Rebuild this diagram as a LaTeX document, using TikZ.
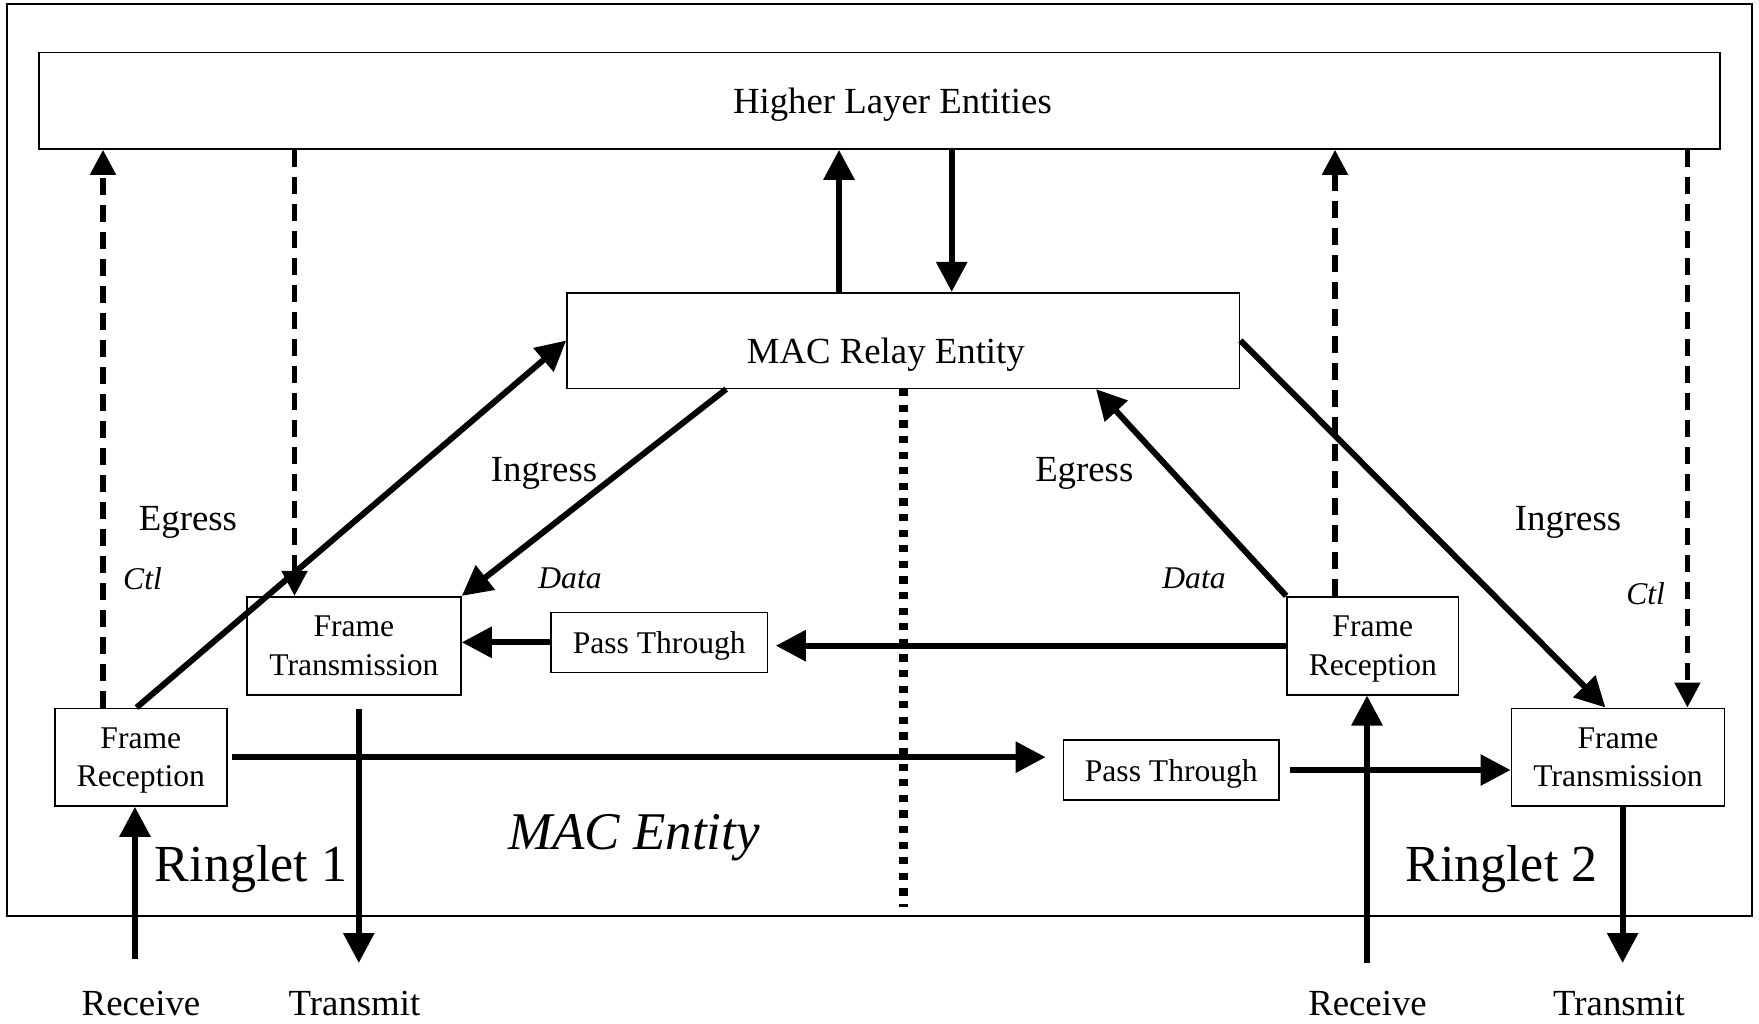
\documentclass[tikz,border=0pt]{standalone}
\usepackage{fontspec}
\setmainfont{Liberation Serif}
\usetikzlibrary{arrows.meta}
\begin{document}
\begin{tikzpicture}[x=0.5pt,y=-0.5pt,
  onebox/.style={draw, line width=0.8pt, inner sep=0pt, text depth=0pt},
  twobox/.style={draw, line width=0.8pt, inner sep=0pt, align=center,
    font=\fontsize{15.8}{19.2}\selectfont},
  bigfont/.style={font=\fontsize{18.4}{22}\selectfont},
  smallfont/.style={font=\fontsize{15.8}{19.2}\selectfont},
  lbl/.style={anchor=base, inner sep=0pt},
  solidarrow/.style={line width=3pt, -{Triangle[length=15pt,width=15pt]}},
  ctlarrow/.style={line width=2.6pt, dash pattern=on 8.5pt off 5pt,
    -{Triangle[length=12.5pt,width=12.5pt]}},
  dotline/.style={line width=4.3pt, dash pattern=on 3.6pt off 4.2pt}]

\useasboundingbox (0,0) rectangle (1759,1023);

% outer frame
\draw[line width=0.8pt] (7,4) rectangle (1752,916);

% boxes
\node[onebox, bigfont, text height=12.6pt, minimum width=840.5pt, minimum height=48.25pt]
  (higher) at (879.5,100.75) {\hspace*{12.9pt}Higher Layer Entities};
\node[onebox, bigfont, text height=22.8pt, minimum width=336.3pt, minimum height=47.8pt]
  (relay) at (903.3,340.5) {MAC Relay Entity\hspace*{17.5pt}};

\node[twobox, minimum width=107.1pt, minimum height=49pt]
  (FT1) at (353.9,645.7) {Frame\\Transmission};
\node[onebox, smallfont, text height=11pt, minimum width=108.25pt, minimum height=30pt]
  (PT1) at (659.25,642.3) {Pass Through};
\node[twobox, minimum width=85.85pt, minimum height=48.85pt]
  (FR1) at (140.85,757.15) {Frame\\\raisebox{0pt}[\height][0pt]{Reception}};

\node[twobox, minimum width=85.8pt, minimum height=49pt]
  (FR2) at (1372.8,645.7) {Frame\\\raisebox{0pt}[\height][0pt]{Reception}};
\node[onebox, smallfont, text height=11.7pt, minimum width=107.7pt, minimum height=30pt]
  (PT2) at (1171.3,770) {Pass Through};
\node[twobox, minimum width=106.65pt, minimum height=48.85pt]
  (FT2) at (1618,757.15) {Frame\\Transmission};

% x positions of connectors
\coordinate (xctl1) at (103,0);
\coordinate (xctl2) at (294.5,0);
\coordinate (xeg1) at (136.6,0);
\coordinate (xin1) at (726.2,0);
\coordinate (xup) at (839,0);
\coordinate (xdown) at (951.7,0);
\coordinate (xdot) at (903.3,0);
\coordinate (xeg2) at (1096,0);
\coordinate (xin2) at (1605.4,0);
\coordinate (xctl3) at (1335,0);
\coordinate (xctl4) at (1687.4,0);
\coordinate (xtx1) at (358.8,0);
\coordinate (xrx1) at (135,0);
\coordinate (xrx2) at (1367,0);
\coordinate (xtx2) at (1622.6,0);

% free ends
\coordinate (dotend) at (903.3,907);
\coordinate (tx1end) at (358.8,963);
\coordinate (rx1start) at (135,959);
\coordinate (rx2start) at (1367,963);
\coordinate (tx2end) at (1622.6,963);

% control (dashed) connectors
\draw[ctlarrow] (FR1.north -| xctl1) -- (higher.south -| xctl1);
\draw[ctlarrow] (higher.south -| xctl2) -- (FT1.north -| xctl2);
\draw[ctlarrow] (FR2.north -| xctl3) -- (higher.south -| xctl3);
\draw[ctlarrow] (higher.south -| xctl4) -- (FT2.north -| xctl4);

% relay <-> higher layer
\draw[solidarrow] (relay.north -| xup) -- (higher.south -| xup);
\draw[solidarrow] (higher.south -| xdown) -- (relay.north -| xdown);

% data paths
\draw[solidarrow] (FR1.north -| xeg1) -- (relay.west);
\draw[solidarrow] (relay.south -| xin1) -- (FT1.north east);
\draw[solidarrow] (FR2.north west) -- (relay.south -| xeg2);
\draw[solidarrow] (relay.east) -- (FT2.north -| xin2);

% dotted divider
\draw[dotline] (relay.south -| xdot) -- (dotend);

% pass-through paths
\draw[solidarrow, shorten >=3.75pt] (FR2.west) -- (PT1.east |- FR2.west);
\draw[solidarrow] (PT1.west) -- (FT1.east |- PT1.west);
\draw[solidarrow, shorten <=2.3pt, shorten >=8.6pt] (FR1.east) -- (PT2.west |- FR1.east);
\draw[solidarrow, shorten <=5pt] (PT2.east) -- (FT2.west |- PT2.east);

% ringlet receive / transmit
\draw[solidarrow, shorten <=6.8pt] (FT1.south -| xtx1) -- (tx1end);
\draw[solidarrow] (rx1start) -- (FR1.south -| xrx1);
\draw[solidarrow] (rx2start) -- (FR2.south -| xrx2);
\draw[solidarrow] (FT2.south -| xtx2) -- (tx2end);

% labels
\node[lbl, bigfont] (egL) at (188,530) {Egress};
\node[lbl, bigfont] (inL) at (544,481.7) {Ingress};
\node[lbl, bigfont] (egR) at (1084.3,481.7) {Egress};
\node[lbl, bigfont] (inR) at (1568,530) {Ingress};
\node[lbl, smallfont] (ctlL) at (142.5,589) {\itshape Ctl};
\node[lbl, smallfont] (dataL) at (570,588.3) {\itshape Data};
\node[lbl, smallfont] (dataR) at (1194,588.3) {\itshape Data};
\node[lbl, smallfont] (ctlR) at (1645.6,604) {\itshape Ctl};
\node[lbl, font=\fontsize{26}{30}\selectfont] (ring1) at (251,881) {Ringlet 1};
\node[lbl, font=\fontsize{26}{30}\selectfont] (ring2) at (1501.4,881) {Ringlet 2};
\node[lbl, font=\fontsize{26.5}{30}\selectfont\itshape] (macent) at (634,849.3) {MAC Entity};
\node[lbl, bigfont] (rxL) at (141,1015) {Receive};
\node[lbl, bigfont] (txL) at (354.5,1015) {Transmit};
\node[lbl, bigfont] (rxR) at (1367.5,1015) {Receive};
\node[lbl, bigfont] (txR) at (1619,1015) {Transmit};
\end{tikzpicture}
\end{document}
